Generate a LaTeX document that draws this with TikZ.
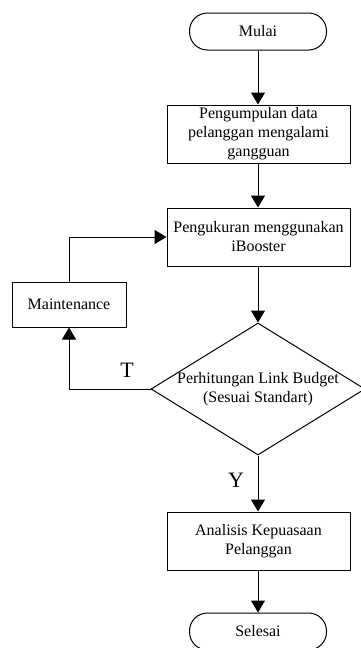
\documentclass[tikz,border=0pt]{standalone}
\usepackage{fontspec}
\setmainfont{Liberation Serif}
\usetikzlibrary{shapes.geometric,arrows.meta}
\begin{document}
\begin{tikzpicture}[x=1pt,y=-1pt,
  every node/.style={font=\fontsize{16}{19}\selectfont},
  box/.style={draw,line width=1pt,rectangle,minimum width=183pt,minimum height=58pt,inner sep=0pt,align=center},
  term/.style={draw,line width=1pt,rectangle,rounded corners=18pt,minimum width=137pt,minimum height=37pt,inner sep=0pt},
  arr/.style={line width=1pt,-{Triangle[length=12pt,width=14pt]}},
  lbl/.style={font=\fontsize{22}{24}\selectfont,inner sep=0pt}]
\useasboundingbox (0,0) rectangle (361,648);
\node[term] (mulai) at (258,31.5) {Mulai};
\node[box] (p1) at (258.5,134) {Pengumpulan data\\pelanggan mengalami\\gangguan};
\node[box] (p2) at (258.5,237) {Pengukuran menggunakan\\iBooster};
\node[box,minimum width=114pt,minimum height=45pt] (maint) at (69,304.5) {Maintenance};
\node[draw,line width=1pt,diamond,minimum width=214pt,minimum height=132pt,inner sep=0pt,
  label={[align=center]center:Perhitungan Link Budget\\(Sesuai Standart)}] (dec) at (258,389) {};
\node[box] (p3) at (258.5,541) {Analisis Kepuasaan\\Pelanggan};
\node[term] (selesai) at (258,631.5) {Selesai};
\draw[arr] (mulai.south) -- (mulai.south |- p1.north);
\draw[arr] (p1.south -| mulai.south) -- (mulai.south |- p2.north);
\draw[arr] (p2.south -| mulai.south) -- (dec.north);
\draw[arr] (dec.south) -- (dec.south |- p3.north);
\draw[arr] (p3.south -| mulai.south) -- (selesai.north);
\draw[arr] (dec.west) -| (maint.south);
\draw[arr] (maint.north) |- (p2.west);
\node[lbl] (t) at (127,370) {T};
\node[lbl] (y) at (236,480) {Y};
\end{tikzpicture}
\end{document}
